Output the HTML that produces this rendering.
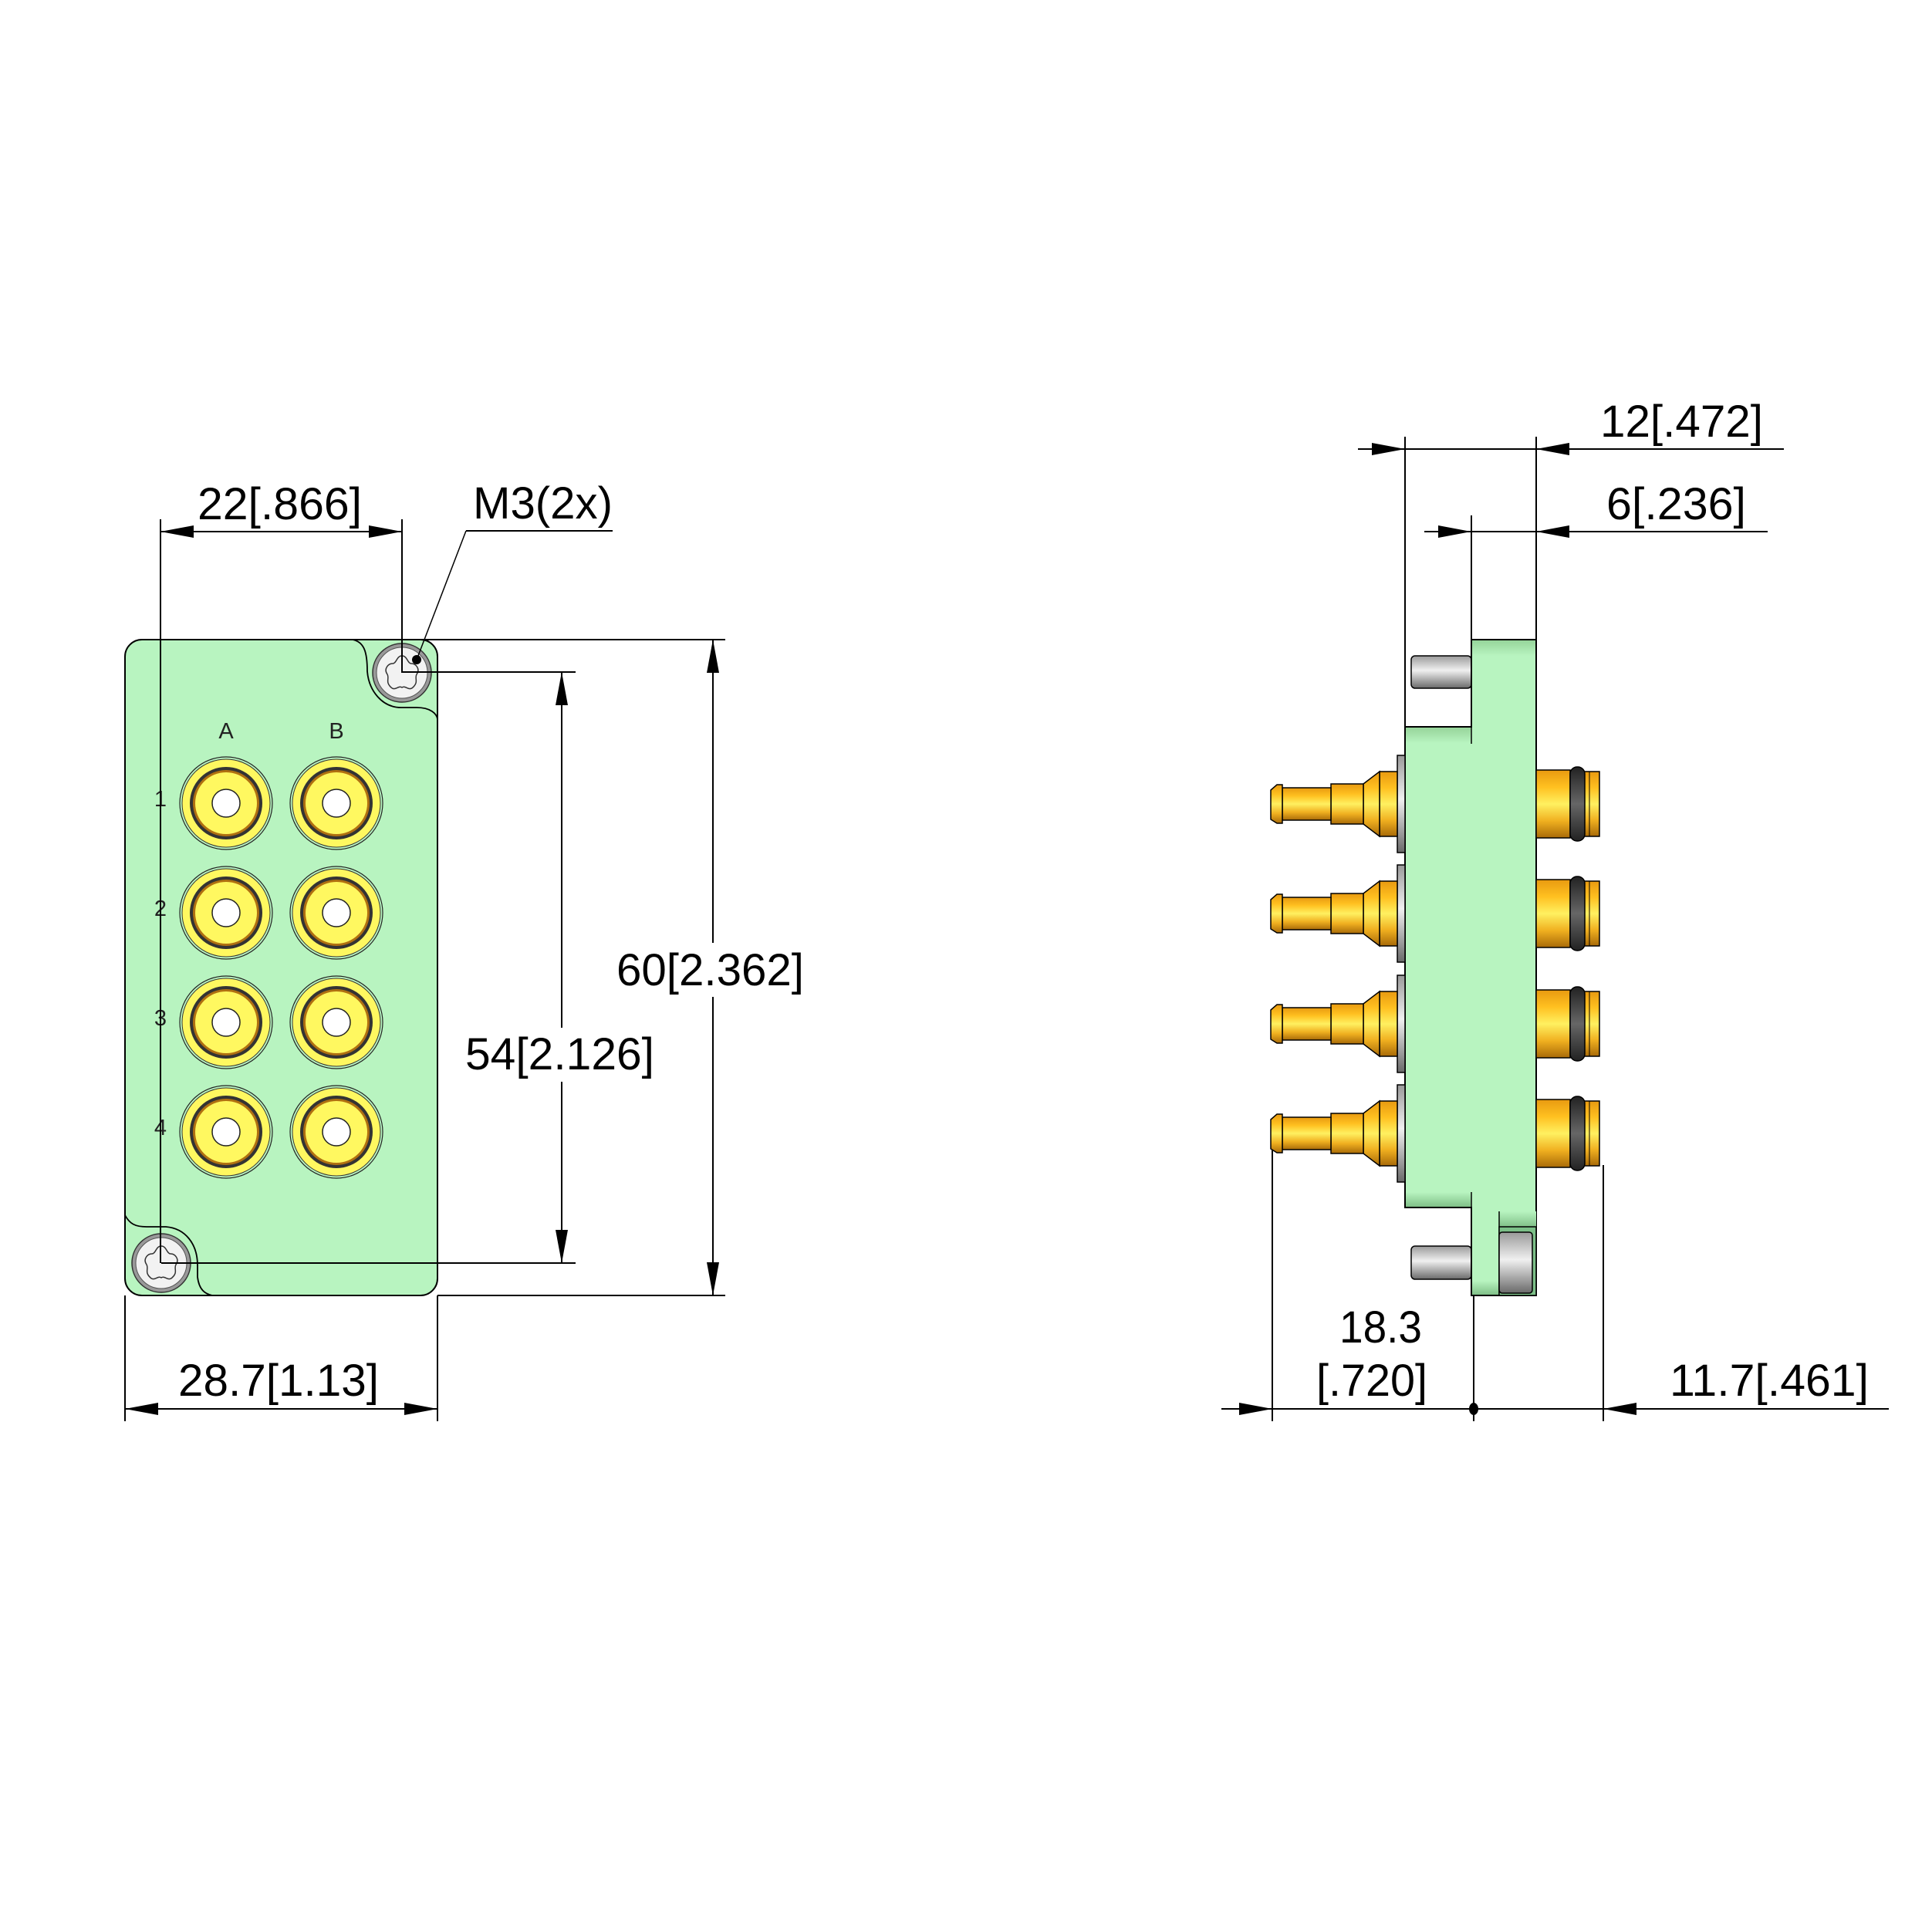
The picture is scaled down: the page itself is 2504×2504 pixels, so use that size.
<!DOCTYPE html>
<html><head><meta charset="utf-8"><style>html,body{margin:0;padding:0;background:#fff}svg{display:block}</style></head>
<body>
<svg xmlns="http://www.w3.org/2000/svg" width="2504" height="2504" viewBox="0 0 2504 2504">
<defs>
<linearGradient id="gold" x1="0" y1="0" x2="0" y2="1">
<stop offset="0" stop-color="#e89a10"/><stop offset="0.25" stop-color="#ffc020"/><stop offset="0.5" stop-color="#fff060"/><stop offset="0.75" stop-color="#f0b020"/><stop offset="1" stop-color="#a86a08"/></linearGradient>
<linearGradient id="steel" x1="0" y1="0" x2="0" y2="1">
<stop offset="0" stop-color="#9a9a9a"/><stop offset="0.45" stop-color="#f0f0f0"/><stop offset="1" stop-color="#6a6a6a"/></linearGradient>
<linearGradient id="ring" x1="0" y1="0" x2="0" y2="1">
<stop offset="0" stop-color="#222"/><stop offset="0.5" stop-color="#666"/><stop offset="1" stop-color="#222"/></linearGradient>
<linearGradient id="gtop" x1="0" y1="0" x2="0" y2="1">
<stop offset="0" stop-color="#96d49a"/><stop offset="1" stop-color="#b8f4c0"/></linearGradient>
<linearGradient id="gbot" x1="0" y1="0" x2="0" y2="1">
<stop offset="0" stop-color="#b8f4c0"/><stop offset="1" stop-color="#80c088"/></linearGradient>
<g id="conn">
<circle r="60" fill="none" stroke="#222" stroke-width="1.2"/>
<circle r="57" fill="#fff860" stroke="#333" stroke-width="1"/>
<circle r="47" fill="#333"/>
<circle r="43" fill="#b07010"/>
<circle r="40" fill="#fff860"/>
<circle r="18" fill="#fff" stroke="#222" stroke-width="1.5"/>
</g>
<g id="screw">
<circle r="38" fill="#999" stroke="#333" stroke-width="1.5"/>
<circle r="33" fill="#f2f2f2" stroke="#555" stroke-width="1"/>
<path d="M0,-22 C7,-22 7,-12 12,-12 C18,-12 24,-5 19,2 C16,7 22,12 14,19 C9,24 5,16 0,19 C-5,16 -9,24 -14,19 C-22,12 -16,7 -19,2 C-24,-5 -18,-12 -12,-12 C-7,-12 -7,-22 0,-22Z" fill="none" stroke="#333" stroke-width="1.5"/>
</g>
<g id="lfit">
<rect x="1811" y="-63" width="10" height="126" fill="url(#steel)" stroke="#000" stroke-width="1.5"/>
<rect x="1788" y="-42" width="23" height="84" fill="url(#gold)" stroke="#000" stroke-width="1.5"/>
<path d="M1767,-26 L1788,-42 L1788,42 L1767,26Z" fill="url(#gold)" stroke="#000" stroke-width="1.5"/>
<rect x="1725" y="-26" width="42" height="52" fill="url(#gold)" stroke="#000" stroke-width="1.5"/>
<rect x="1662" y="-21" width="63" height="42" fill="url(#gold)" stroke="#000" stroke-width="1.5"/>
<path d="M1647,-18 L1655,-25 L1662,-25 L1662,25 L1655,25 L1647,20Z" fill="url(#gold)" stroke="#000" stroke-width="1.5"/>
<rect x="1991" y="-44" width="44" height="88" fill="url(#gold)" stroke="#000" stroke-width="1.5"/>
<rect x="2053" y="-42" width="20" height="84" fill="url(#gold)" stroke="#000" stroke-width="1.5"/>
<line x1="2060" y1="-42" x2="2060" y2="42" stroke="#000" stroke-width="1"/>
<rect x="2035" y="-48" width="19" height="96" rx="9" fill="url(#ring)" stroke="#000" stroke-width="1.5"/>
</g>
</defs>

<!-- LEFT VIEW -->
<rect x="162" y="829" width="405" height="850" rx="22" fill="#b8f4c0" stroke="#000" stroke-width="2"/>
<path d="M457,829 C472,832 476,845 476,870 C478,895 495,917 520,917 L540,917 C558,917 566,925 567,932" fill="none" stroke="#000" stroke-width="1.8"/>
<path d="M162,1575 C168,1586 175,1590 190,1590 L215,1590 C240,1592 256,1612 256,1640 L256,1655 C258,1672 266,1677 275,1679" fill="none" stroke="#000" stroke-width="1.8"/>
<use href="#screw" x="521" y="872"/>
<use href="#screw" x="209" y="1637"/>
<use href="#conn" x="293" y="1041"/><use href="#conn" x="436" y="1041"/>
<use href="#conn" x="293" y="1183"/><use href="#conn" x="436" y="1183"/>
<use href="#conn" x="293" y="1325"/><use href="#conn" x="436" y="1325"/>
<use href="#conn" x="293" y="1467"/><use href="#conn" x="436" y="1467"/>
<g font-family="Liberation Sans, sans-serif" font-size="29" fill="#222" text-anchor="middle">
<text x="293" y="957">A</text><text x="436" y="957">B</text>
<text x="208" y="1045">1</text><text x="208" y="1187">2</text><text x="208" y="1329">3</text><text x="208" y="1471">4</text>
</g>

<g stroke="#000" stroke-width="2" fill="none">
<line x1="208" y1="673" x2="208" y2="1637"/>
<line x1="521" y1="673" x2="521" y2="872"/>
<line x1="208" y1="689" x2="521" y2="689"/>
<line x1="604" y1="688" x2="794" y2="688"/>
<line x1="604" y1="688" x2="540" y2="855" stroke-width="1.5"/>
<line x1="457" y1="829" x2="940" y2="829"/>
<line x1="567" y1="1679" x2="940" y2="1679"/>
<line x1="924" y1="829" x2="924" y2="1679"/>
<line x1="521" y1="871" x2="746" y2="871"/>
<line x1="209" y1="1637" x2="746" y2="1637"/>
<line x1="728" y1="871" x2="728" y2="1637"/>
<line x1="162" y1="1679" x2="162" y2="1842"/>
<line x1="567" y1="1679" x2="567" y2="1842"/>
<line x1="162" y1="1826" x2="567" y2="1826"/>
</g>
<circle cx="540" cy="855" r="6" fill="#000"/>
<g fill="#000">
<path d="M208,689 l43,-8 v16z"/><path d="M521,689 l-43,-8 v16z"/>
<path d="M924,829 l-8,43 h16z"/><path d="M924,1679 l-8,-43 h16z"/>
<path d="M728,871 l-8,43 h16z"/><path d="M728,1637 l-8,-43 h16z"/>
<path d="M162,1826 l43,-8 v16z"/><path d="M567,1826 l-43,-8 v16z"/>
</g>
<g font-family="Liberation Sans, sans-serif" font-size="58" fill="#000">
<text x="256" y="673" textLength="213" lengthAdjust="spacingAndGlyphs">22[.866]</text>
<text x="613" y="672" textLength="181" lengthAdjust="spacingAndGlyphs">M3(2x)</text>
<rect x="796" y="1222" width="250" height="70" fill="#fff"/>
<text x="799" y="1277" textLength="243" lengthAdjust="spacingAndGlyphs">60[2.362]</text>
<rect x="600" y="1332" width="252" height="70" fill="#fff"/>
<text x="603" y="1386" textLength="245" lengthAdjust="spacingAndGlyphs">54[2.126]</text>
<text x="231" y="1809" textLength="260" lengthAdjust="spacingAndGlyphs">28.7[1.13]</text>
</g>

<!-- RIGHT VIEW -->
<rect x="1829" y="850" width="78" height="42" rx="5" fill="url(#steel)" stroke="#000" stroke-width="1.5"/>
<rect x="1829" y="1615" width="78" height="43" rx="5" fill="url(#steel)" stroke="#000" stroke-width="1.5"/>
<path d="M1907,829 L1991,829 L1991,1679 L1907,1679 L1907,1565 L1821,1565 L1821,942 L1907,942Z" fill="#b8f4c0" stroke="#000" stroke-width="2"/>
<rect x="1908" y="830" width="82" height="20" fill="url(#gtop)"/>
<rect x="1822" y="943" width="84" height="20" fill="url(#gtop)"/>
<rect x="1822" y="1545" width="84" height="19" fill="url(#gbot)"/>
<rect x="1908" y="1660" width="82" height="18" fill="url(#gbot)"/>
<line x1="1907" y1="942" x2="1907" y2="964" stroke="#000" stroke-width="1.5"/>
<line x1="1907" y1="1545" x2="1907" y2="1565" stroke="#000" stroke-width="1.5"/>
<rect x="1943" y="1570" width="48" height="20" fill="url(#gbot)"/>
<line x1="1943" y1="1570" x2="1943" y2="1679" stroke="#000" stroke-width="1.5"/>
<rect x="1943" y="1590" width="48" height="89" fill="#7cc088" stroke="#000" stroke-width="1.5"/>
<rect x="1943" y="1597" width="43" height="79" rx="4" fill="url(#steel)" stroke="#000" stroke-width="1.5"/>
<use href="#lfit" y="1042"/>
<use href="#lfit" y="1184"/>
<use href="#lfit" y="1327"/>
<use href="#lfit" y="1469"/>

<g stroke="#000" stroke-width="2" fill="none">
<line x1="1821" y1="566" x2="1821" y2="942"/>
<line x1="1991" y1="566" x2="1991" y2="829"/>
<line x1="1907" y1="668" x2="1907" y2="829"/>
<line x1="1760" y1="582" x2="2312" y2="582"/>
<line x1="1846" y1="689" x2="2291" y2="689"/>
<line x1="1649" y1="1490" x2="1649" y2="1842"/>
<line x1="1910" y1="1679" x2="1910" y2="1842"/>
<line x1="2078" y1="1510" x2="2078" y2="1842"/>
<line x1="1583" y1="1826" x2="2448" y2="1826"/>
</g>
<g fill="#000">
<path d="M1821,582 l-43,-8 v16z"/><path d="M1991,582 l43,-8 v16z"/>
<path d="M1907,689 l-43,-8 v16z"/><path d="M1991,689 l43,-8 v16z"/>
<path d="M1649,1826 l-43,-8 v16z"/><path d="M2078,1826 l43,-8 v16z"/>
<ellipse cx="1910" cy="1826" rx="6" ry="8"/>
</g>
<g font-family="Liberation Sans, sans-serif" font-size="58" fill="#000">
<text x="2074" y="566" textLength="211" lengthAdjust="spacingAndGlyphs">12[.472]</text>
<text x="2082" y="673" textLength="181" lengthAdjust="spacingAndGlyphs">6[.236]</text>
<text x="1736" y="1740" textLength="107" lengthAdjust="spacingAndGlyphs">18.3</text>
<text x="1706" y="1809" textLength="144" lengthAdjust="spacingAndGlyphs">[.720]</text>
<text x="2164" y="1809" textLength="258" lengthAdjust="spacingAndGlyphs">11.7[.461]</text>
</g>
</svg>
</body></html>
